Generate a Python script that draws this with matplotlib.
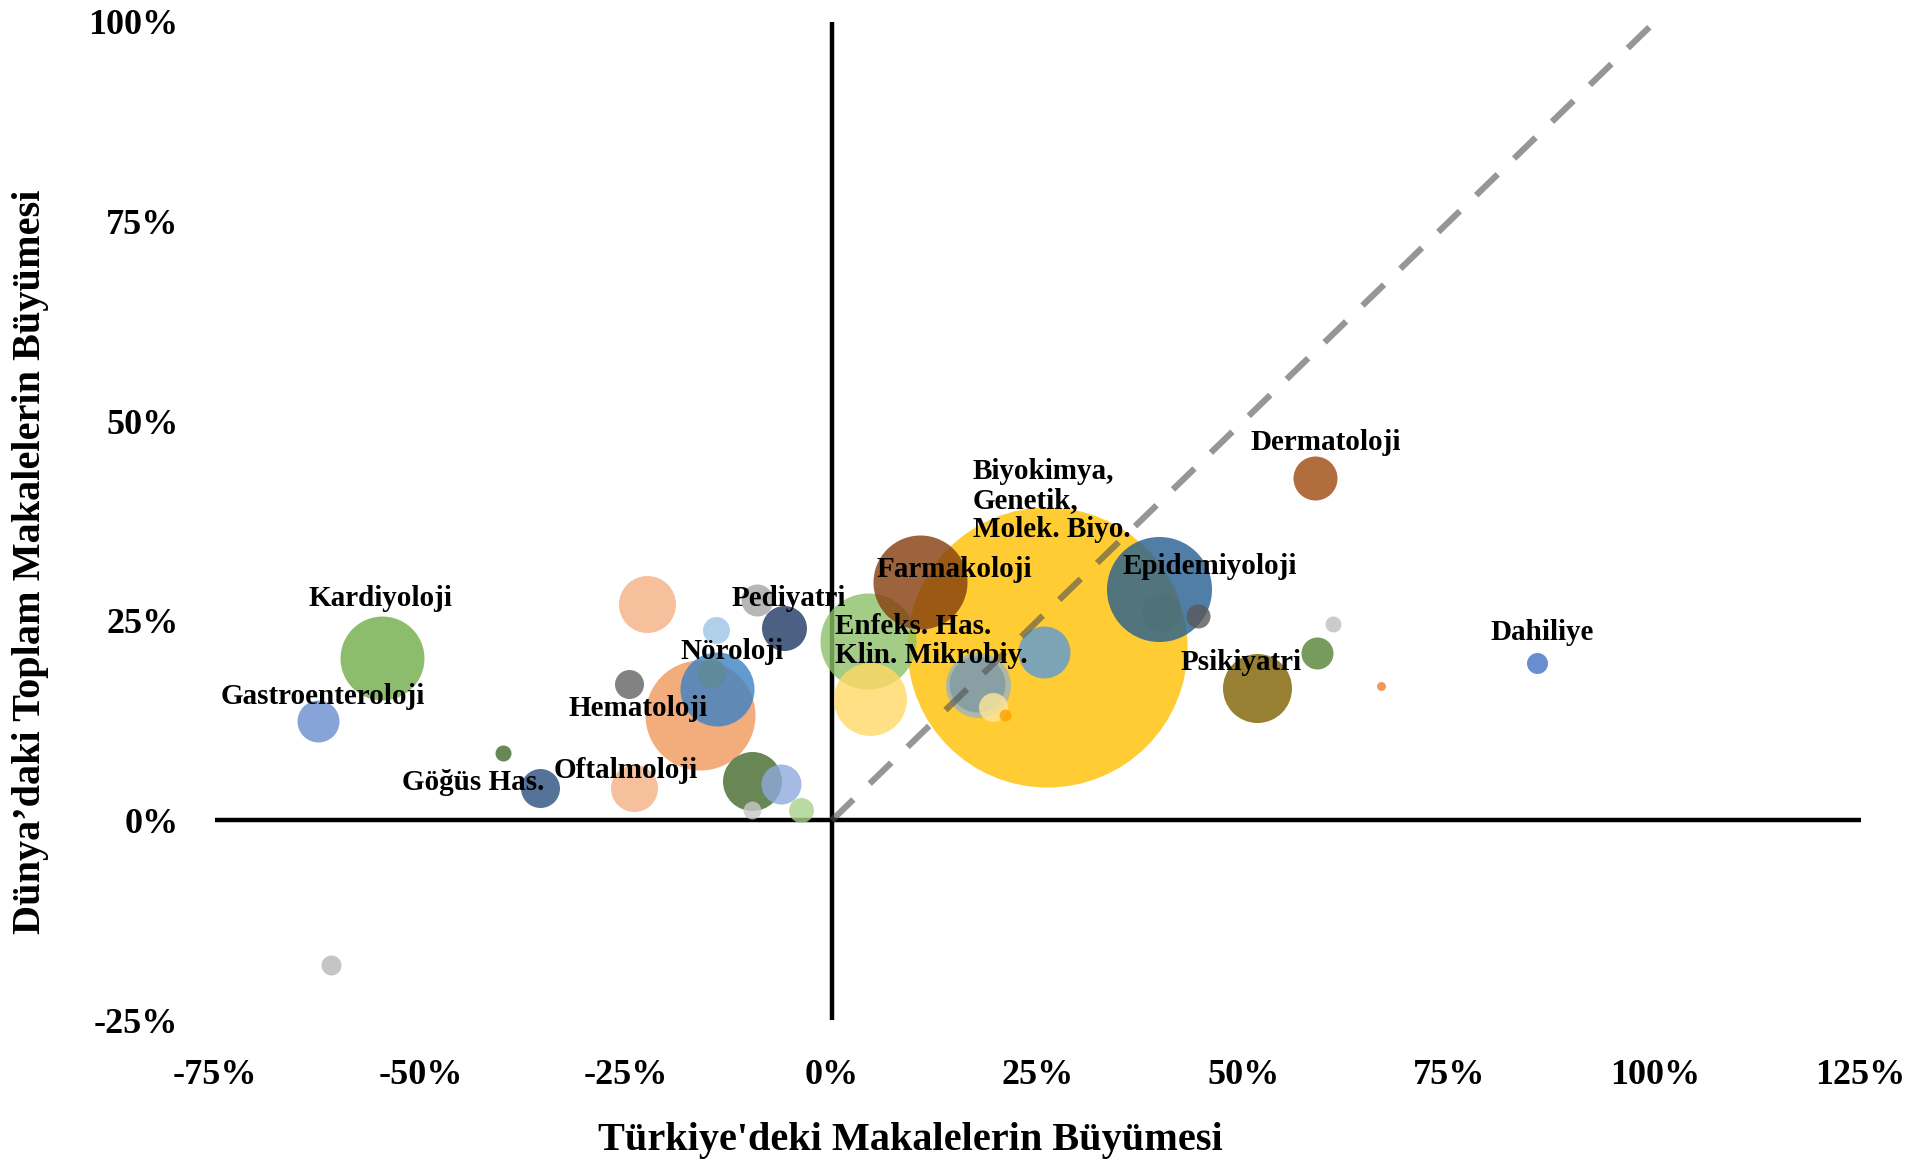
import matplotlib
matplotlib.use("Agg")
import matplotlib.pyplot as plt
from matplotlib.ticker import PercentFormatter, MultipleLocator
import numpy as np

plt.rcParams["font.family"] = ["Liberation Serif", "DejaVu Serif"]
plt.rcParams["font.weight"] = "bold"
plt.rcParams["axes.unicode_minus"] = False

# Türkiye'deki büyüme (x), dünyadaki büyüme (y), baloncuk büyüklüğü (makale sayısı, tahmini)
turkiye = [-54.7, -62.4, -60.9, -40.0, -35.4, -24.0, -24.7, -22.5, -16.0, -14.0,
           -14.7, -14.1, -9.1, -5.8, -9.75, -6.2, -9.7, -3.7, 4.4, 4.6,
           10.7, 26.2, 25.8, 17.8, 17.6, 19.6, 21.0, 39.7, 40.0, 44.5,
           58.7, 60.9, 59.0, 51.7, 66.7, 85.7]
dunya = [20.4, 12.5, -18.1, 8.5, 4.1, 4.1, 17.1, 27.1, 13.2, 16.5,
         18.5, 23.9, 27.6, 24.1, 4.9, 4.6, 1.3, 1.3, 22.5, 15.2,
         29.8, 21.7, 21.1, 17.0, 17.1, 14.2, 13.2, 29.0, 26.1, 25.6,
         42.9, 24.6, 21.0, 16.6, 16.8, 19.7]
boyut = [880, 220, 50, 32, 190, 276, 105, 406, 1512, 684,
         105, 91, 128, 253, 435, 200, 40, 78, 1152, 666,
         1104, 9800, 338, 528, 392, 105, 18, 1378, 180, 72,
         242, 32, 128, 595, 10, 55]
renk = ["#70AD47", "#698ED0", "#B7B7B7", "#43682B", "#2B4F7E", "#F4B183", "#636363", "#F4B183", "#F1975A", "#3B82C4",
        "#5E8A96", "#9DC3E6", "#A5A5A5", "#1F3864", "#43682B", "#8FAADC", "#C9C9C9", "#A9D18E", "#8CC168", "#FFD966",
        "#843C0C", "#FFC000", "#5B9BD5", "#9DB3BE", "#7F9AA5", "#FFE699", "#FFA000", "#255E91", "#4F7278", "#595959",
        "#9E480E", "#BFBFBF", "#548235", "#7F6000", "#ED7D31", "#4472C4"]

etiketler = ["Kardiyoloji", "Gastroenteroloji", "Göğüs Has.", "Oftalmoloji", "Hematoloji",
             "Nöroloji", "Pediyatri", "Enfeks. Has.\nKlin. Mikrobiy.", "Farmakoloji",
             "Biyokimya,\nGenetik,\nMolek. Biyo.", "Epidemiyoloji", "Dermatoloji",
             "Psikiyatri", "Dahiliye"]
etiket_x = [-54.8, -61.9, -43.6, -25.1, -23.6, -12.1, -5.25, 0.4, 14.9, 17.1, 45.9, 60.0, 49.7, 86.3]
etiket_y = [27.8, 15.5, 4.8, 6.3, 14.0, 21.2, 27.8, 22.5, 31.4, 40.1, 31.8, 47.3, 19.8, 23.5]
etiket_hiza = ["center"] * 7 + ["left", "center", "left"] + ["center"] * 4

fig = plt.figure(figsize=(19.23, 11.62), dpi=100)
ax = fig.add_axes([0.1116, 0.1222, 0.8559, 0.8589])

x = np.array(turkiye) / 100
y = np.array(dunya) / 100
s = np.array(boyut) * 4.15
sira = np.argsort(-s)
for i in sira:
    ax.scatter(x[i], y[i], s=s[i], color=renk[i], alpha=0.8, linewidths=0, zorder=2)

ax.axhline(0, color="black", lw=3.2, zorder=1)
ax.axvline(0, color="black", lw=3.2, zorder=1)
ax.plot([0, 1], [0, 1], color="#505050", alpha=0.6, lw=4.5, ls=(0, (4.8, 3.65)), zorder=3)

for t, tx, ty, h in zip(etiketler, etiket_x, etiket_y, etiket_hiza):
    ax.text(tx / 100, ty / 100, t, ha=h, va="center", fontsize=21, fontweight="bold",
            linespacing=1.1, zorder=4)

ax.set_xlim(-0.75, 1.25)
ax.set_ylim(-0.25, 1.0)
ax.xaxis.set_major_locator(MultipleLocator(0.25))
ax.yaxis.set_major_locator(MultipleLocator(0.25))
ax.xaxis.set_major_formatter(PercentFormatter(1.0, decimals=0))
ax.yaxis.set_major_formatter(PercentFormatter(1.0, decimals=0))
ax.tick_params(axis="y", length=0, labelsize=26, pad=26)
ax.tick_params(axis="x", length=0, labelsize=26, pad=28)
for sp in ax.spines.values():
    sp.set_visible(False)

fig.text(0.4732, 0.0185, "Türkiye'deki Makalelerin Büyümesi", ha="center", va="center",
         fontsize=29, fontweight="bold")
fig.text(0.0161, 0.5164, "Dünya’daki Toplam Makalelerin Büyümesi", ha="center", va="center",
         rotation=90, fontsize=29, fontweight="bold")

fig.savefig("out.png", dpi=100)
